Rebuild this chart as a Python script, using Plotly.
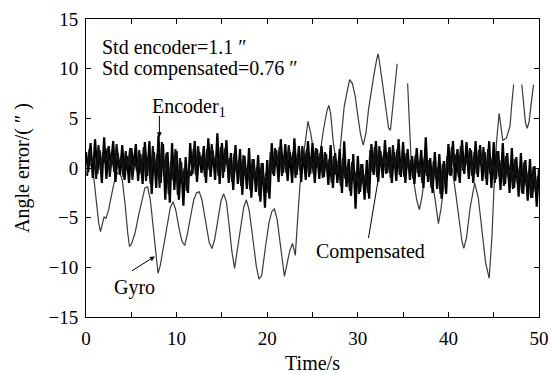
import plotly.graph_objects as go

# ---------------- data ----------------
enc_step = 0.25
encoder = [
    1.6, -0.4, 2.5, -1.0,  2.9, -0.6, 1.8, -1.5,  3.1, -1.1, 2.2, 0.2,  2.7, -1.4, 1.5, -0.7,
    2.3, -1.2, 1.2, -1.5,  2.0, 0.1, 2.4, -1.3,  1.4, -1.6, 2.6, -0.8,  2.7, -2.6, 1.6, -2.0,
    3.3, -1.5, 2.4, -3.2,  1.6, -3.5, 2.5, -2.2,  1.7, -3.2, 0.6, -3.8,  1.1, -2.5, 2.5, -0.6,
    2.7, -1.4, 1.6, -0.5,  2.2, -1.5, 3.0, -0.9,  1.7, -1.2, 3.5, -1.6,  2.5, -0.4, 2.8, -1.5,
    1.5, -2.2, 2.3, -1.6,  1.9, -2.7, 1.2, -2.1,  2.0, -3.0, 0.9, -2.4,  1.3, -3.4, 0.5, -4.0,
    0.8, -3.1, 2.5, -0.8,  1.8, -1.4, 2.9, -0.5,  2.4, -1.3, 1.6, -1.5,  3.0, -0.7, 2.2, -1.4,
    1.7, -1.2, 2.7, -0.6,  2.5, -1.5, 1.9, -1.1,  2.2, -0.9, 1.4, -1.7,  2.3, -2.0, 1.5, -1.5,
    1.9, -2.5, 2.7, -1.9,  0.9, -2.8, 1.4, -4.1,  1.2, -2.4, 0.4, -3.2,  0.8, -3.1, 2.4, -0.7,
    2.7, -1.4, 1.7, -1.0,  2.8, -0.5, 2.1, -1.5,  1.6, -1.3, 2.9, -0.9,  2.6, -1.5, 1.9, -1.2,
    1.2, -1.6, 2.0, -0.9,  1.8, -2.0, 3.1, -1.4,  1.0, -2.5, 1.6, -2.1,  1.4, -3.1, 0.7, -2.6,
    2.4, -0.8, 2.7, -1.3,  1.9, -1.5, 2.8, -0.6,  2.6, -1.1, 1.8, -1.5,  2.7, -0.9, 2.3, -1.3,
    1.6, -1.7, 2.7, -2.0,  2.6, -1.1, 1.7, -2.2,  2.5, -1.6, 1.5, -2.5,  2.0, -2.0, 1.1, -2.9,
    1.5, -2.6, 0.8, -3.3,  0.9, -3.0, 0.2, -3.9,  0.0,
]

comp_start = 0.125
comp_step = 0.25
compensated = [
    -0.8, 1.9, 0.4, 1.2,  -1.1, 2.3, -0.2, 1.6,  0.5, 2.0, -0.9, 1.3,  -0.4, 2.4, 0.2, 1.1,
    -0.9, 1.7, 0.0, 2.0,  -1.2, 1.0, -0.3, 1.8,  -0.6, 2.1, -1.3, 1.2,  -1.6, 2.2, -0.4, 1.4,
    -2.0, 2.6, -0.8, 1.5,  -2.6, 0.7, -1.2, 1.9,  -2.7, 1.0, -1.5, 0.0,  -2.3, -0.2, -0.8, 1.9,
    -0.7, 2.2, 0.3, 1.3,  -0.9, 1.9, -0.2, 2.4,  0.4, 1.2, -0.8, 2.1,  -1.0, 2.0, 0.1, 1.0,
    -1.4, 1.5, -0.5, 0.8,  -1.8, 1.3, -0.9, 0.3,  -2.2, 0.9, -1.2, 0.1,  -2.8, 0.5, -1.9, -0.5,
    -2.5, 1.6, -0.6, 2.0,  0.2, 2.1, -0.8, 1.2,  -0.5, 2.3, 0.4, 1.6,  -1.0, 1.4, -0.2, 2.2,
    0.3, 1.9, -0.9, 1.1,  -0.6, 2.0, 0.1, 1.5,  -1.0, 1.6, -0.4, 0.9,  -1.5, 1.2, -0.7, 0.5,
    -1.8, 1.0, -1.1, 0.2,  -2.3, 0.6, -1.4, -0.3,  -2.6, 0.4, -1.7, -0.6,  -2.5, 1.8, -0.4, 2.1,
    -0.9, 2.2, 0.3, 1.3,  -0.6, 1.6, -1.0, 2.3,  0.1, 1.9, -0.7, 1.2,  -0.9, 1.5, -0.2, 0.8,
    -1.1, 1.3, -0.5, 0.5,  -1.5, 1.1, -0.8, 0.3,  -2.0, 0.7, -1.1, 0.0,  -2.6, 0.4, -1.6, 1.2,
    -0.7, 2.1, 0.1, 1.4,  -0.9, 2.2, -0.3, 1.1,  0.3, 2.0, -0.8, 1.6,  -0.6, 1.8, 0.2, 2.1,
    -1.1, 1.9, -0.6, 1.0,  -1.5, 1.7, -0.9, 0.8,  -1.8, 1.2, -1.0, 0.4,  -2.1, 0.9, -1.5, 0.1,
    -2.5, 0.6, -1.8, -0.3,  -3.0, 0.1, -2.4, -0.8,
]

gyro_t = [
    0.0, 0.5, 0.8, 1.1, 1.4, 1.6, 1.8, 2.0, 2.2, 2.5, 2.8, 3.1, 3.4, 3.7,
    4.0, 4.3, 4.6, 4.8, 5.0, 5.4, 5.8, 6.2, 6.5, 6.8, 7.1, 7.4, 7.7, 7.95,
    8.2, 8.6, 9.0, 9.3, 9.6, 9.9, 10.3, 10.6, 10.9, 11.2, 11.6, 11.9, 12.2, 12.5,
    12.8, 13.2, 13.6, 13.9, 14.2, 14.6, 14.9, 15.2, 15.5, 15.8, 16.1, 16.4, 16.7, 17.0,
    17.4, 17.7, 18.0, 18.4, 18.8, 19.1, 19.4, 19.8, 20.2, 20.5, 20.8, 21.1, 21.5, 21.9,
    22.2, 22.5, 22.8, 23.1, 23.3, 23.6, 23.9, 24.2, 24.5, 24.8, 25.1, 25.5, 25.8, 26.2,
    26.6, 26.8, 27.0, 27.3, 27.6, 27.9, 28.2, 28.5, 28.8, 29.1, 29.4, 29.7, 30.0, 30.3,
    30.6, 30.9, 31.2, 31.5, 31.8, 32.1, 32.25, 32.5, 32.8, 33.1, 33.4, 33.6, 33.9, 34.2,
    34.35, 34.8,
    35.5, 35.7, 35.9, 36.2, 36.5, 36.8, 37.1, 37.4, 37.8, 38.2, 38.6, 38.9, 39.2, 39.6,
    40.0, 40.4, 40.8, 41.2, 41.5, 41.7, 42.0, 42.4, 42.9, 43.3, 43.7, 44.1, 44.5, 44.8,
    45.0, 45.3, 45.6, 45.8, 46.0, 46.4, 46.8, 47.0, 47.2, 47.6,
    48.1, 48.3, 48.5, 48.7, 48.9, 49.1, 49.4,
]
gyro = [
    0.5, 0.4, -0.5, -3.0, -5.5, -6.4, -5.6, -4.9, -5.1, -4.2, -2.8, -1.5, -0.6, -0.4,
    -1.2, -3.5, -6.5, -7.9, -7.7, -6.6, -4.8, -3.0, -2.0, -1.9, -3.2, -5.8, -8.5, -10.6,
    -9.8, -7.8, -5.5, -4.0, -3.4, -4.2, -6.2, -7.4, -7.8, -6.6, -4.6, -3.2, -2.5, -2.4,
    -3.2, -5.3, -7.5, -8.1, -7.2, -5.0, -3.3, -2.6, -3.4, -5.8, -8.4, -10.1, -8.2, -6.0,
    -4.0, -3.2, -4.2, -7.0, -9.9, -11.2, -10.8, -8.0, -5.5, -4.4, -4.1, -5.2, -8.2, -10.9,
    -9.6, -8.3, -7.6, -8.8, -6.0, -1.9, 0.5, 2.8, 4.7, 3.5, 1.8, 0.5, 1.2, 3.8,
    5.8, 6.3, 5.5, 2.5, 0.8, 0.5, 3.5, 6.2, 7.6, 8.9, 8.5, 7.3, 5.3, 3.4,
    2.3, 3.5, 6.0, 8.0, 9.5, 11.0, 11.5, 10.0, 8.0, 5.8, 4.0, 3.8, 6.5, 9.5,
    10.5, None,
    8.5, 4.0, 0.5, -1.5, -3.2, -4.2, -2.8, -0.6, 0.8, -1.0, -3.6, -5.6, -4.0, -1.0,
    0.3, 0.0, -2.5, -5.5, -7.4, -8.1, -7.0, -4.0, -1.5, -3.0, -6.0, -9.5, -11.1, -7.0,
    -2.7, 2.5, 5.5, 4.2, 2.8, 3.0, 4.2, 6.5, 8.4, None,
    8.4, 6.2, 4.6, 4.0, 4.6, 6.2, 8.4,
]

x_ticks = [0, 5, 10, 15, 20, 25, 30, 35, 40, 45, 50]
x_tick_text = ["0", " ", "10", " ", "20", " ", "30", " ", "40", " ", "50"]
y_ticks = [-15, -10, -5, 0, 5, 10, 15]
y_tick_text = ["\u221215", "\u221210", "\u22125", "0", "5", "10", "15"]

# ---------------- figure ----------------
t_enc = [i * enc_step for i in range(len(encoder))]
t_comp = [comp_start + i * comp_step for i in range(len(compensated))]

FONT = "Liberation Serif"

fig = go.Figure()
fig.add_trace(go.Scatter(x=gyro_t, y=gyro, mode="lines", name="Gyro",
                         line=dict(color="#3a3a3a", width=1.2), connectgaps=False))
fig.add_trace(go.Scatter(x=t_enc, y=encoder, mode="lines", name="Encoder",
                         line=dict(color="#000000", width=2.2)))
fig.add_trace(go.Scatter(x=t_comp, y=compensated, mode="lines", name="Compensated",
                         line=dict(color="#111111", width=2.0)))

axis_common = dict(showline=True, linecolor="black", linewidth=1, mirror="ticks",
                   ticks="inside", ticklen=5, tickcolor="black", showgrid=False,
                   zeroline=False, automargin=False,
                   tickfont=dict(family=FONT, size=19, color="black"))

fig.update_xaxes(range=[0, 50], tickvals=x_ticks, ticktext=x_tick_text,
                 ticklabelstandoff=4,
                 title=dict(text="Time/s", font=dict(family=FONT, size=20, color="black"),
                            standoff=8), **axis_common)
fig.update_yaxes(range=[-15, 15], tickvals=y_ticks, ticktext=y_tick_text,
                 ticklabelstandoff=3,
                 title=dict(text="Angle error/( \u2033 )", font=dict(family=FONT, size=20, color="black"),
                            standoff=13), **axis_common)

ann_font = dict(family=FONT, size=20, color="black")
fig.add_annotation(x=1.55, y=12.2, text="Std encoder=1.1 \u2033", showarrow=False,
                   xanchor="left", yanchor="middle", font=ann_font)
fig.add_annotation(x=1.55, y=10.05, text="Std compensated=0.76 \u2033", showarrow=False,
                   xanchor="left", yanchor="middle", font=ann_font)
fig.add_annotation(x=7.05, y=6.1, text="Encoder<sub>1</sub>", showarrow=False,
                   xanchor="left", yanchor="middle", font=ann_font)
fig.add_annotation(x=8.1, y=3.1, ax=8.1, ay=5.4, axref="x", ayref="y", text="",
                   showarrow=True, arrowhead=2, arrowsize=1, arrowwidth=1, arrowcolor="black")
fig.add_annotation(x=5.35, y=-12.0, text="Gyro", showarrow=False,
                   xanchor="center", yanchor="middle", font=ann_font)
fig.add_annotation(x=7.6, y=-8.9, ax=4.9, ay=-10.45, axref="x", ayref="y", text="",
                   showarrow=True, arrowhead=2, arrowsize=1, arrowwidth=1, arrowcolor="black")
fig.add_annotation(x=31.4, y=-8.45, text="Compensated", showarrow=False,
                   xanchor="center", yanchor="middle", font=ann_font)
fig.add_annotation(x=32.3, y=-0.9, ax=31.15, ay=-7.2, axref="x", ayref="y", text="",
                   showarrow=True, arrowhead=0, arrowwidth=1, arrowcolor="black")

fig.update_layout(width=552, height=374, margin=dict(l=86, r=13, t=19, b=57),
                  plot_bgcolor="white", paper_bgcolor="white", showlegend=False,
                  font=dict(family=FONT, color="black"))

fig.write_html("out.html")
